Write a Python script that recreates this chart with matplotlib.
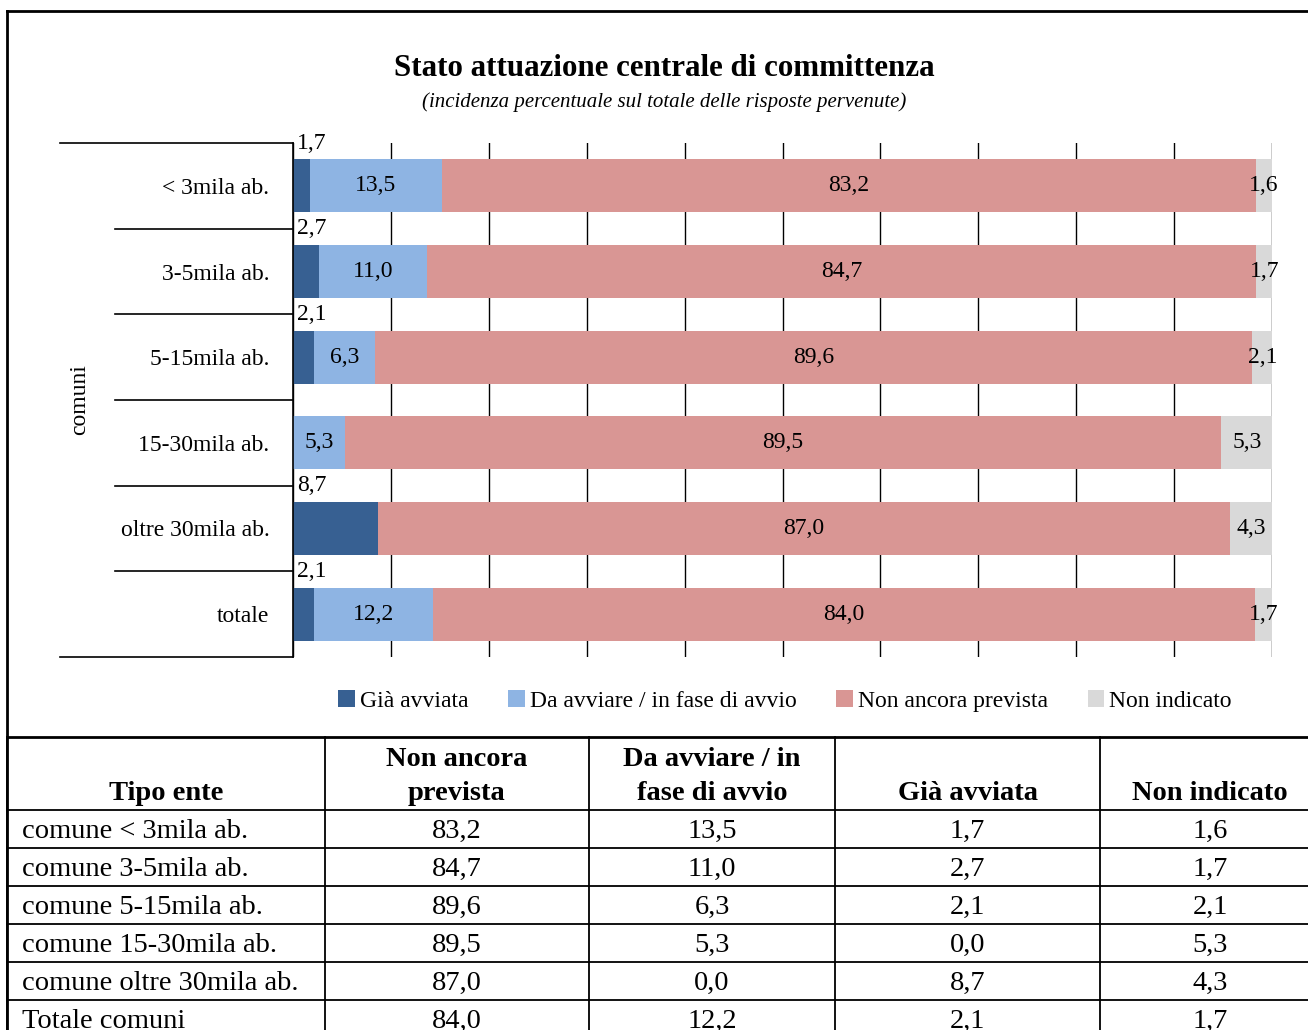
import numpy as np
import matplotlib
matplotlib.use('Agg')
import matplotlib.pyplot as plt
import matplotlib.transforms as mtransforms

plt.rcParams['font.family'] = ['Liberation Serif', 'DejaVu Serif']

# data
categories = ['< 3mila ab.', '3-5mila ab.', '5-15mila ab.', '15-30mila ab.', 'oltre 30mila ab.', 'totale']
table_rows = ['comune < 3mila ab.', 'comune 3-5mila ab.', 'comune 5-15mila ab.',
              'comune 15-30mila ab.', 'comune oltre 30mila ab.', 'Totale comuni']
gia_avviata = [1.7, 2.7, 2.1, 0.0, 8.7, 2.1]
da_avviare = [13.5, 11.0, 6.3, 5.3, 0.0, 12.2]
non_prevista = [83.2, 84.7, 89.6, 89.5, 87.0, 84.0]
non_indicato = [1.6, 1.7, 2.1, 5.3, 4.3, 1.7]
series_names = ['Già avviata', 'Da avviare / in fase di avvio', 'Non ancora prevista', 'Non indicato']
colors = ['#376092', '#8EB4E3', '#D99694', '#D9D9D9']
table_headers = ['Tipo ente', 'Non ancora\nprevista', 'Da avviare / in\nfase di avvio', 'Già avviata', 'Non indicato']

W, H = 1308, 1030
LBL = 17


def fmt(v):
    return f'{v:.1f}'.replace('.', ',')


fig = plt.figure(figsize=(W / 100, H / 100), dpi=100)

# background axes in pixel coordinates for frame and table
bg = fig.add_axes([0, 0, 1, 1])
bg.set_xlim(0, W)
bg.set_ylim(H, 0)
bg.axis('off')

bg.plot([7, 7], [11, H], color='black', lw=2)
bg.plot([7, W], [11, 11], color='black', lw=2)

# chart
ax = fig.add_axes([293 / W, 1 - 657 / H, 979 / W, 514 / H])
ypos = np.arange(len(categories))
series = [gia_avviata, da_avviare, non_prevista, non_indicato]
left = np.zeros(len(categories))
handles = []
for vals, c, name in zip(series, colors, series_names):
    b = ax.barh(ypos, vals, left=left, height=0.62, color=c, label=name, zorder=2)
    handles.append(b)
    left = left + np.array(vals)

ax.set_xlim(0, 100)
ax.set_ylim(5.5, -0.5)
ax.set_xticks(np.arange(0, 101, 10))
ax.xaxis.grid(True, color='black', lw=1)
ax.set_axisbelow(True)
ax.tick_params(axis='x', length=0, labelbottom=False)
ax.set_yticks(ypos, categories)
ax.tick_params(axis='y', length=0, pad=17, labelsize=LBL)
for s in ['top', 'right', 'bottom']:
    ax.spines[s].set_visible(False)
ax.spines['left'].set_linewidth(1.2)

# category separators on the left
trans = mtransforms.blended_transform_factory(ax.transAxes, ax.transData)
for b in np.arange(-0.5, len(categories)):
    x0 = -0.238 if b in (-0.5, len(categories) - 0.5) else -0.182
    ax.plot([x0, 0], [b, b], transform=trans, color='black', lw=1.2, clip_on=False)

# data labels
for i in range(len(categories)):
    if gia_avviata[i] > 0:
        ax.text(1.95, i - 0.5, fmt(gia_avviata[i]), ha='center', va='center', fontsize=LBL,
                zorder=3)
    start = gia_avviata[i]
    if da_avviare[i] > 0:
        ax.text(start + da_avviare[i] / 2, i, fmt(da_avviare[i]), ha='center', va='center',
                fontsize=LBL, zorder=3)
    start += da_avviare[i]
    ax.text(start + non_prevista[i] / 2, i, fmt(non_prevista[i]), ha='center', va='center',
            fontsize=LBL, zorder=3)
    start += non_prevista[i]
    ax.text(start + non_indicato[i] / 2, i, fmt(non_indicato[i]), ha='center', va='center',
            fontsize=LBL, zorder=3)

fig.text(80 / W, 1 - 400 / H, 'comuni', rotation=90, ha='center', va='center', fontsize=LBL)

fig.text(664 / W, 1 - 68 / H, 'Stato attuazione centrale di committenza', ha='center',
         va='center', fontsize=22.3, fontweight='bold')
fig.text(664 / W, 1 - 102 / H, '(incidenza percentuale sul totale delle risposte pervenute)',
         ha='center', va='center', fontsize=15, style='italic')

fig.legend(handles, series_names, loc='center', bbox_to_anchor=(785 / W, 1 - 701 / H), ncol=4,
           frameon=False, fontsize=LBL, handlelength=0.7, handleheight=0.7,
           handletextpad=0.2, columnspacing=1.7)

# table
col_edges = [7, 325, 589, 835, 1100, 1320]
row_edges = [737, 810, 848, 886, 924, 962, 1000, 1038]
for r in row_edges:
    bg.plot([7, W], [r, r], color='black', lw=2 if r == 737 else 1.3)
for c in col_edges:
    bg.plot([c, c], [737, H], color='black', lw=1.3)

for j, h in enumerate(table_headers):
    cx = (col_edges[j] + col_edges[j + 1]) / 2
    bg.text(cx, 806, h, ha='center', va='bottom', fontsize=20.5, fontweight='bold',
            linespacing=1.5)

table_cols = [non_prevista, da_avviare, gia_avviata, non_indicato]
for k, name in enumerate(table_rows):
    cy = (row_edges[k + 1] + row_edges[k + 2]) / 2 + 2
    bg.text(22, cy, name, ha='left', va='center', fontsize=20.5)
    for j, col in enumerate(table_cols):
        cx = (col_edges[j + 1] + col_edges[j + 2]) / 2
        bg.text(cx, cy, fmt(col[k]), ha='center', va='center', fontsize=20.5)

fig.savefig('out.png', dpi=100)
